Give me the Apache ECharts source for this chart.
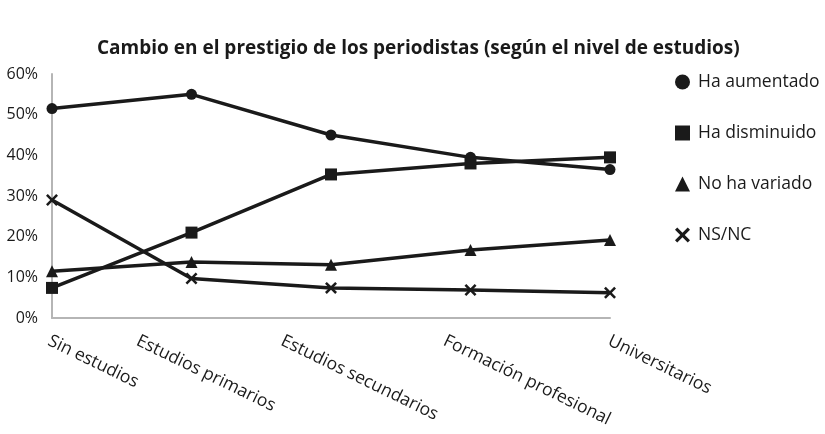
<!DOCTYPE html>
<html><head><meta charset="utf-8">
<script src="https://cdn.jsdelivr.net/npm/echarts@6/dist/echarts.min.js"></script>
<style>html,body{margin:0;padding:0;background:#fff}#c{width:825px;height:434px}</style>
</head><body><div id="c"></div>
<script>
const categories = ['Sin estudios','Estudios primarios','Estudios secundarios','Formación profesional','Universitarios'];
const haAumentado = [51.5, 55, 45, 39.5, 36.5];
const haDisminuido = [7.4, 21, 35.3, 38, 39.5];
const noHaVariado = [11.5, 13.8, 13.1, 16.7, 19.2];
const nsnc = [29, 9.7, 7.4, 6.9, 6.2];
const yTicks = [0,10,20,30,40,50,60];

// horizontal shift (px) of each category label relative to its tick, as in the reference layout
const labelShift = [1, -50, -45, -22, 3];
const labelRotate = -26;

const crossPath = 'path://M0,3 L3,0 L10,7 L17,0 L20,3 L13,10 L20,17 L17,20 L10,13 L3,20 L0,17 L7,10 Z';
const lineColor = '#1a1a1a';
const font = '"Open Sans", Lato, sans-serif';
function s(name, data, symbol, size){
  return {name, type:'line', data, symbol, symbolSize:size, showSymbol:true,
    lineStyle:{color:lineColor,width:3.5}, itemStyle:{color:lineColor}, z:2};
}
const chart = echarts.init(document.getElementById('c'));
chart.setOption({
  animation:false,
  title:{text:'Cambio en el prestigio de los periodistas (según el nivel de estudios)', left:92, top:34,
    textStyle:{fontFamily:font,fontWeight:'bold',fontSize:19,color:'#1a1a1a'}},
  legend:{orient:'vertical', left:670, top:68, itemGap:33, itemWidth:15, itemHeight:15,
    textStyle:{fontFamily:font,fontSize:17.5,color:'#1a1a1a',padding:[0,0,0,3]},
    data:[{name:'Ha aumentado',icon:'circle'},{name:'Ha disminuido',icon:'rect'},{name:'No ha variado',icon:'triangle'},{name:'NS/NC',icon:crossPath}]},
  grid:{left:52, right:215, top:74, bottom:116},
  xAxis:{type:'category', data:categories, boundaryGap:false,
    axisLine:{lineStyle:{color:'#b5b5b5',width:2}}, axisTick:{show:false},
    axisLabel:{show:false}},
  yAxis:{type:'value', min:0, max:60, interval:10,
    axisLine:{show:true,lineStyle:{color:'#b5b5b5',width:2}}, splitLine:{show:false}, axisTick:{show:false},
    axisLabel:{formatter:v=>yTicks.includes(v)?v+'%':'', fontFamily:font, fontSize:16, color:'#1a1a1a', margin:14}},
  series:[
    s('Ha aumentado', haAumentado, 'circle', 11),
    s('Ha disminuido', haDisminuido, 'rect', 12),
    s('No ha variado', noHaVariado, 'triangle', 12),
    s('NS/NC', nsnc, crossPath, 12)
  ]
});
// category labels, placed at each tick through the axis scale
const axisY = chart.convertToPixel({yAxisIndex:0}, 0);
chart.setOption({
  graphic: categories.map((c, i) => ({
    type:'text',
    x: chart.convertToPixel({xAxisIndex:0}, c) + labelShift[i],
    y: axisY + 14,
    rotation: labelRotate * Math.PI / 180,
    style:{text:c, fontFamily:font, fontSize:17.5, fill:'#1a1a1a', align:'left', verticalAlign:'top'}
  }))
});
</script></body></html>
